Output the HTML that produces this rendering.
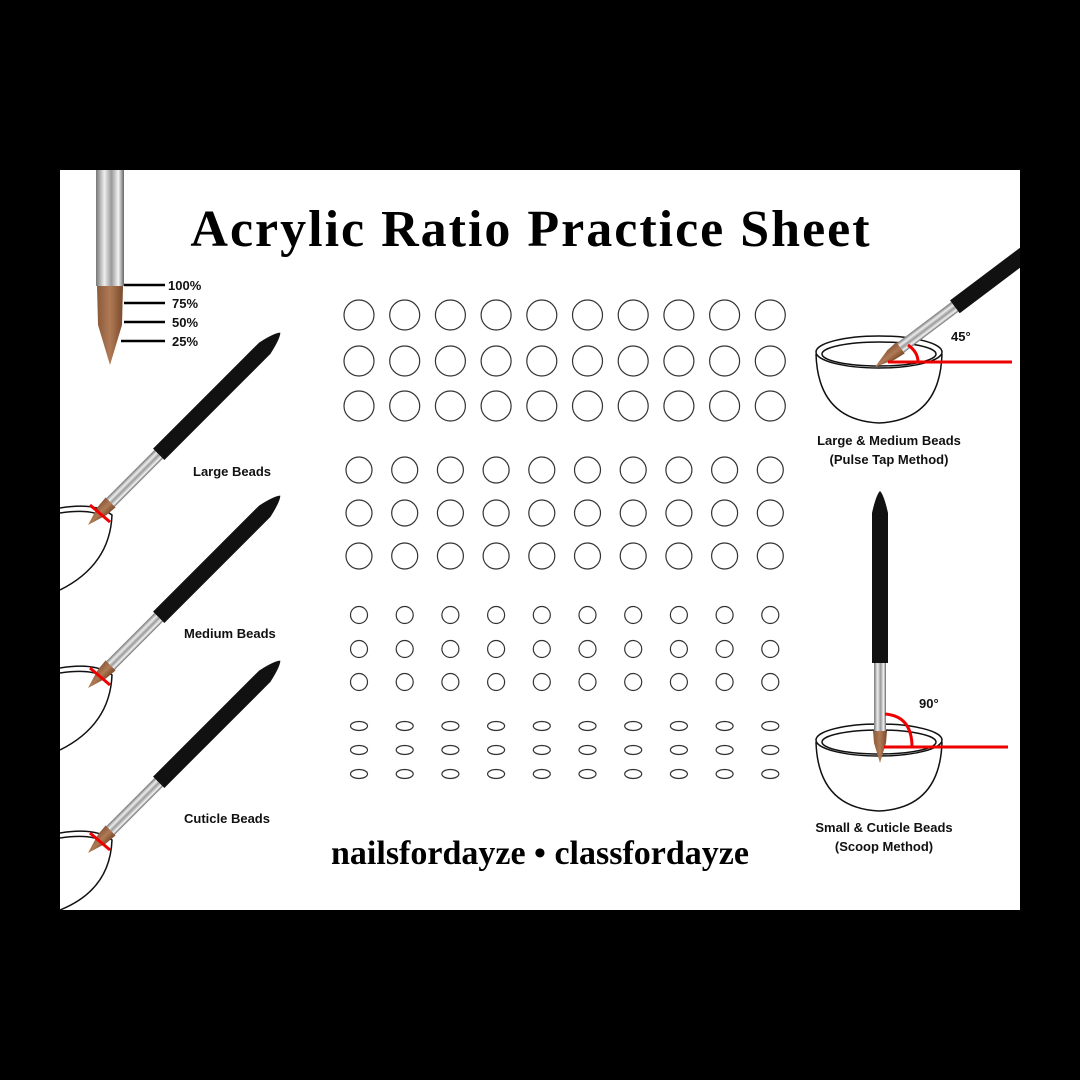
<!DOCTYPE html>
<html><head><style>
body{margin:0;background:#000;}
svg{display:block}
.t{font-family:"Liberation Sans",sans-serif;font-weight:bold;font-size:13px;fill:#111}
</style></head><body>
<svg width="1080" height="1080" viewBox="0 0 1080 1080" xmlns="http://www.w3.org/2000/svg">
<defs>
<clipPath id="sheet"><rect x="60" y="170" width="960" height="740"/></clipPath>
<linearGradient id="sil" x1="0" x2="1" y1="0" y2="0">
<stop offset="0" stop-color="#777"/><stop offset=".3" stop-color="#eee"/><stop offset=".55" stop-color="#999"/><stop offset=".8" stop-color="#f4f4f4"/><stop offset="1" stop-color="#666"/></linearGradient>
<linearGradient id="br" x1="0" x2="1"><stop offset="0" stop-color="#8a5a3a"/><stop offset=".5" stop-color="#b07a55"/><stop offset="1" stop-color="#7a4a2c"/></linearGradient>
<g id="brush">
<path d="M0,0 L-6,-20 L-7,-32 L7,-32 L6,-20 Z" fill="url(#br)"/>
<rect x="-6" y="-100" width="12" height="68" fill="url(#sil)"/>
<path d="M-8,-100 L-8,-250 Q-4,-268 0,-272 Q4,-268 8,-250 L8,-100 Z" fill="#111"/>
</g>
</defs>
<rect x="60" y="170" width="960" height="740" fill="#fff"/>
<g clip-path="url(#sheet)">
<text x="531" y="246" text-anchor="middle" font-family="Liberation Serif,serif" font-weight="bold" font-size="52" letter-spacing="2" fill="#000">Acrylic Ratio Practice Sheet</text>
<text x="540" y="864" text-anchor="middle" font-family="Liberation Serif,serif" font-weight="bold" font-size="34" fill="#000">nailsfordayze • classfordayze</text>

<rect x="96" y="170" width="28" height="116" fill="url(#sil)"/>
<path d="M97,286 L123,286 L122,325 L110,365 L98,325 Z" fill="url(#br)"/>
<g stroke="#000" stroke-width="2.5">
<line x1="124" y1="285" x2="165" y2="285"/><line x1="124" y1="303" x2="165" y2="303"/>
<line x1="124" y1="322" x2="165" y2="322"/><line x1="121" y1="341" x2="165" y2="341"/></g>
<g class="t"><text x="168" y="290">100%</text><text x="172" y="308">75%</text><text x="172" y="327">50%</text><text x="172" y="346">25%</text></g>

<g fill="none" stroke="#111" stroke-width="1.5">
<path d="M60,508 Q95,502 112,515 Q110,565 60,590"/><path d="M60,513 Q92,508 106,518"/>
<path d="M60,668 Q95,662 112,675 Q110,725 60,750"/><path d="M60,673 Q92,668 106,678"/>
<path d="M60,833 Q95,827 112,840 Q110,890 60,910"/><path d="M60,838 Q92,833 106,843"/>
</g>
<use href="#brush" transform="translate(88,525) rotate(45)"/>
<use href="#brush" transform="translate(88,688) rotate(45)"/>
<use href="#brush" transform="translate(88,853) rotate(45)"/>
<g stroke="#e00" stroke-width="3"><line x1="90" y1="505" x2="110" y2="522"/><line x1="90" y1="668" x2="110" y2="685"/><line x1="90" y1="833" x2="110" y2="850"/></g>
<g class="t"><text x="193" y="476">Large Beads</text><text x="184" y="638">Medium Beads</text><text x="184" y="823">Cuticle Beads</text></g>

<g fill="none" stroke="#111" stroke-width="1.5">
<ellipse cx="879" cy="352" rx="63" ry="16"/><ellipse cx="879" cy="354" rx="57" ry="12"/>
<path d="M816,354 Q818,420 879,423 Q940,420 942,354"/>
<ellipse cx="879" cy="740" rx="63" ry="16"/><ellipse cx="879" cy="742" rx="57" ry="12"/>
<path d="M816,742 Q818,808 879,811 Q940,808 942,742"/>
</g>
<use href="#brush" transform="translate(875,367) rotate(53)"/>
<use href="#brush" transform="translate(880,763)"/>
<g stroke="#e00" stroke-width="3" fill="none">
<line x1="888" y1="362" x2="1012" y2="362"/><path d="M908,345 Q918,352 918,362"/>
<line x1="884" y1="747" x2="1008" y2="747"/><path d="M885,714 Q912,716 912,747"/></g>
<g class="t"><text x="951" y="341">45°</text><text x="919" y="708">90°</text>
<text x="889" y="445" text-anchor="middle">Large &amp; Medium Beads</text><text x="889" y="464" text-anchor="middle">(Pulse Tap Method)</text>
<text x="884" y="832" text-anchor="middle">Small &amp; Cuticle Beads</text><text x="884" y="851" text-anchor="middle">(Scoop Method)</text></g>
</g>
<g fill="none" stroke="#333" stroke-width="1.2" id="grid"></g>
<script>
var g=document.getElementById('grid'),ns='http://www.w3.org/2000/svg';
var xs=[];for(var i=0;i<10;i++)xs.push(359+i*45.7);
function add(t,a){var e=document.createElementNS(ns,t);for(var k in a)e.setAttribute(k,a[k]);g.appendChild(e);}
[[315,15],[361,15],[406,15],[470,13],[513,13],[556,13],[615,8.5],[649,8.5],[682,8.5]].forEach(function(r){xs.forEach(function(x){add('circle',{cx:x,cy:r[0],r:r[1]});});});
[726,750,774].forEach(function(y){xs.forEach(function(x){add('ellipse',{cx:x,cy:y,rx:8.5,ry:4.5});});});
</script>
</svg>
</body></html>
